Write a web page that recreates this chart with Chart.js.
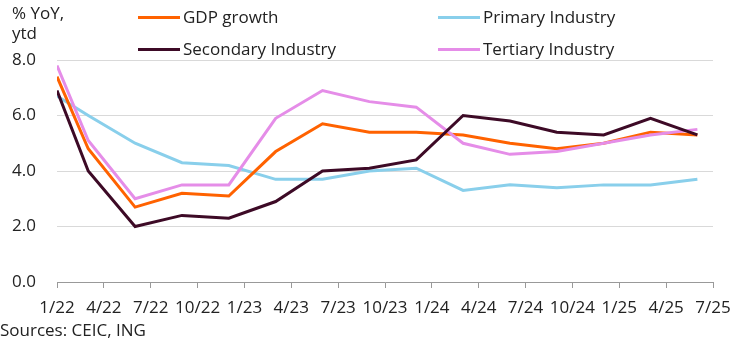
<!DOCTYPE html>
<html>
<head>
<meta charset="utf-8">
<script src="https://cdn.jsdelivr.net/npm/chart.js@4.4.1/dist/chart.umd.min.js"></script>
<style>
  html, body { margin: 0; padding: 0; background: #fff; }
  body { width: 744px; height: 343px; position: relative; overflow: hidden; font-family: "Open Sans", sans-serif; color: #222; }
  #wrap { position: absolute; left: 0; top: 0; width: 744px; height: 343px; }
  .note { position: absolute; font-size: 17px; line-height: 20px; white-space: nowrap; }
  #ytitle { left: 12px; top: 3px; }
  #source { left: 0; top: 320px; }
  #legend .item { position: absolute; height: 20px; font-size: 17px; line-height: 20px; white-space: nowrap; }
  #legend .swatch { position: absolute; left: 0; top: 9px; width: 42px; height: 3px; }
  #legend .text { position: absolute; left: 45px; top: 0; }
</style>
</head>
<body>
<div id="wrap"><canvas id="chart" width="744" height="343"></canvas></div>
<div class="note" id="ytitle">% YoY,<br>ytd</div>
<div id="legend"></div>
<div class="note" id="source">Sources: CEIC, ING</div>
<script>
// months counted from Jan 2022 (0 = 1/22)
const months = [0, 2, 5, 8, 11, 14, 17, 20, 23, 26, 29, 32, 35, 38, 41];
const tickLabels = ['1/22', '4/22', '7/22', '10/22', '1/23', '4/23', '7/23', '10/23',
                    '1/24', '4/24', '7/24', '10/24', '1/25', '4/25', '7/25'];

const gdpGrowth = [7.4, 4.8, 2.7, 3.2, 3.1, 4.7, 5.7, 5.4, 5.4, 5.3, 5.0, 4.8, 5.0, 5.4, 5.3];
const primaryIndustry = [6.7, 6.0, 5.0, 4.3, 4.2, 3.7, 3.7, 4.0, 4.1, 3.3, 3.5, 3.4, 3.5, 3.5, 3.7];
const secondaryIndustry = [6.9, 4.0, 2.0, 2.4, 2.3, 2.9, 4.0, 4.1, 4.4, 6.0, 5.8, 5.4, 5.3, 5.9, 5.3];
const tertiaryIndustry = [7.8, 5.1, 3.0, 3.5, 3.5, 5.9, 6.9, 6.5, 6.3, 5.0, 4.6, 4.7, 5.0, 5.3, 5.5];

const FONT = '"Open Sans", sans-serif';

function toPoints(values) {
    return values.map((v, i) => ({ x: months[i], y: v }));
}

const series = [
    { label: 'GDP growth', data: gdpGrowth, color: '#FF6200', order: 2, slot: [138, 7] },
    { label: 'Primary Industry', data: primaryIndustry, color: '#89CFEB', order: 3, slot: [438, 7] },
    { label: 'Secondary Industry', data: secondaryIndustry, color: '#3D0A26', order: 0, slot: [138, 39] },
    { label: 'Tertiary Industry', data: tertiaryIndustry, color: '#E58DE8', order: 1, slot: [438, 39] }
];

const legend = document.getElementById('legend');
series.forEach(s => {
    const item = document.createElement('div');
    item.className = 'item';
    item.style.left = s.slot[0] + 'px';
    item.style.top = s.slot[1] + 'px';
    item.innerHTML = '<span class="swatch" style="background:' + s.color + '"></span><span class="text">' + s.label + '</span>';
    legend.appendChild(item);
});

new Chart(document.getElementById('chart'), {
    type: 'line',
    data: {
        datasets: series.map(s => ({
            label: s.label,
            data: toPoints(s.data),
            borderColor: s.color,
            backgroundColor: s.color,
            borderWidth: 3,
            pointRadius: 0,
            tension: 0,
            order: s.order
        }))
    },
    options: {
        responsive: false,
        animation: false,
        layout: { padding: { top: 60, right: 31, bottom: 0, left: 12 } },
        plugins: {
            legend: { display: false },
            tooltip: { enabled: false }
        },
        scales: {
            x: {
                type: 'linear',
                min: 0,
                max: 42,
                afterFit: (scale) => { scale.height = 61; },
                afterBuildTicks: (scale) => {
                    scale.ticks = tickLabels.map((_, i) => ({ value: i * 3 }));
                },
                grid: { drawOnChartArea: false, drawTicks: true, tickLength: 6, color: '#999' },
                border: { display: true, color: '#999', width: 1 },
                ticks: {
                    padding: 10,
                    maxRotation: 0,
                    autoSkip: false,
                    color: '#222',
                    font: { family: FONT, size: 17 },
                    callback: (value) => tickLabels[Math.round(value / 3)]
                }
            },
            y: {
                min: 0,
                max: 8,
                afterFit: (scale) => { scale.width = 45; },
                grid: { color: '#d9d9d9', drawTicks: false },
                border: { display: false },
                ticks: {
                    stepSize: 2,
                    padding: 21,
                    color: '#222',
                    font: { family: FONT, size: 17 },
                    callback: (value) => value.toFixed(1)
                }
            }
        }
    }
});
</script>
</body>
</html>
